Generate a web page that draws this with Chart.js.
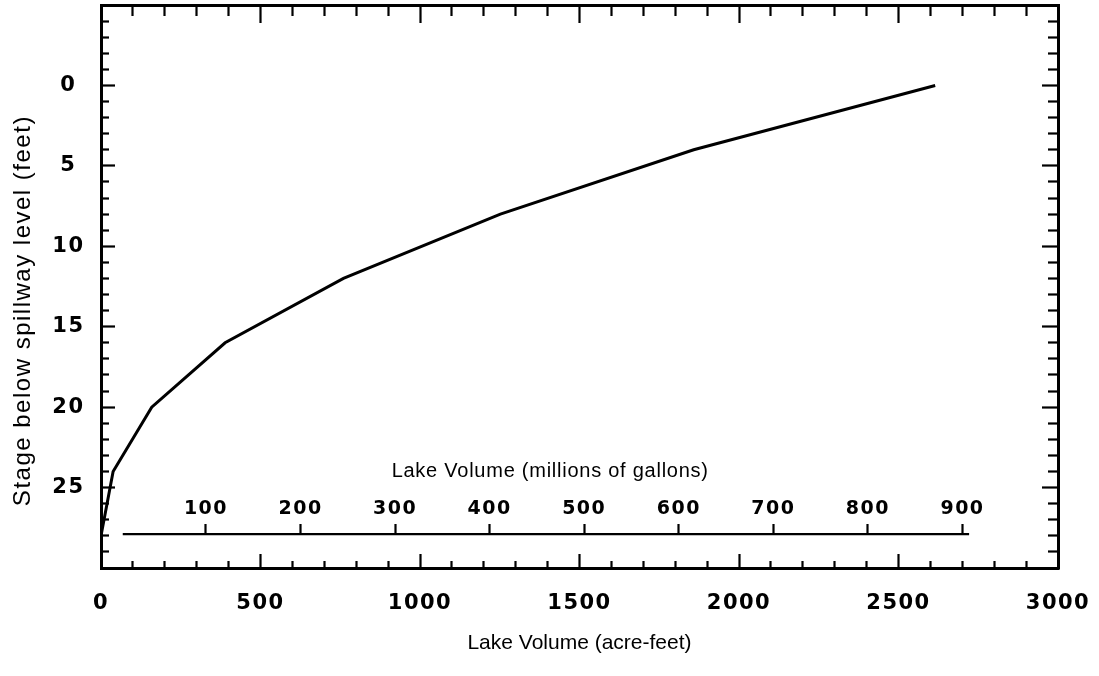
<!DOCTYPE html>
<html>
<head>
<meta charset="utf-8">
<script src="https://cdn.jsdelivr.net/npm/chart.js@4/dist/chart.umd.min.js"></script>
<style>
  html, body { margin: 0; padding: 0; background: #fff; }
  #wrap { width: 1099px; height: 676px; }
</style>
</head>
<body>
<div id="wrap"><canvas id="myChart"></canvas></div>
<script>
// stage / volume curve
const volumeAcreFeet = [0, 38, 159, 389, 760, 1252, 1858, 2615];
const stageFeet = [28, 24, 20, 16, 12, 8, 4, 0];

// tick labels
const acreFeetTicks = [0, 500, 1000, 1500, 2000, 2500, 3000];
const stageTicks = [0, 5, 10, 15, 20, 25];
const gallonTicks = [100, 200, 300, 400, 500, 600, 700, 800, 900];

// inner gallons scale (millions of gallons) and where its line sits
const gallonRange = [-11, 1001];
const gallonLineEnds = [12, 907];
const gallonLineStage = 27.9;
const gallonTitleAt = [464, 24];
// stage (feet) at the middle of the y title, as printed
const yTitleStage = 14;

const tickFont = { family: 'DejaVu Sans', size: 21, weight: 'bold' };
const titleFont = { family: 'Liberation Sans', size: 21 };

// tick-only axes glued to the frame; long ticks at majors, short dashes at minors
function frameAxis(axis, position, min, max, step, major, len) {
  return {
    type: 'linear',
    axis: axis,
    position: position,
    min: min,
    max: max,
    reverse: axis === 'y',
    ticks: { display: false, stepSize: step, maxTicksLimit: 200 },
    grid: {
      drawOnChartArea: false,
      drawTicks: true,
      tickLength: len,
      tickWidth: 2.2,
      tickColor: '#000',
      tickBorderDash: (c) => (c.tick && c.tick.value % major === 0) ? [] : [9, 40]
    },
    border: { display: true, color: '#000', width: 3 }
  };
}

// titles that sit off the axis centre, plus letter spacing for tick numbers
const lettering = {
  id: 'lettering',
  beforeDraw(chart) {
    chart.ctx.letterSpacing = '0px';
  },
  afterDatasetsDraw(chart) {
    const { ctx, scales } = chart;
    ctx.save();
    ctx.fillStyle = '#000';
    ctx.textAlign = 'center';
    ctx.textBaseline = 'middle';
    ctx.letterSpacing = '0.75px';
    ctx.font = '20px "Liberation Sans"';
    ctx.fillText('Lake Volume (millions of gallons)',
      scales.x2.getPixelForValue(gallonTitleAt[0]),
      scales.y.getPixelForValue(gallonTitleAt[1]));
    ctx.letterSpacing = '1.5px';
    ctx.font = '24px "Liberation Sans"';
    ctx.translate(scales.y.left + 23, scales.y.getPixelForValue(yTitleStage));
    ctx.rotate(-Math.PI / 2);
    ctx.fillText('Stage below spillway level (feet)', 0, 0);
    ctx.restore();
    ctx.letterSpacing = '1.5px';
  },
  afterDraw(chart) {
    chart.ctx.letterSpacing = '0px';
  }
};

const data = {
  datasets: [
    {
      label: 'stage',
      data: volumeAcreFeet.map((v, i) => ({ x: v, y: stageFeet[i] })),
      borderColor: '#000',
      borderWidth: 3,
      pointRadius: 0,
      tension: 0,
      xAxisID: 'x',
      yAxisID: 'y'
    },
    {
      label: 'gallons axis',
      data: gallonLineEnds.map(v => ({ x: v, y: gallonLineStage })),
      borderColor: '#000',
      borderWidth: 2.2,
      pointRadius: 0,
      xAxisID: 'x2',
      yAxisID: 'y'
    }
  ]
};

const config = {
  type: 'line',
  data: data,
  options: {
    responsive: true,
    maintainAspectRatio: false,
    animation: false,
    layout: { padding: { left: 0, top: 5, right: 41, bottom: 0 } },
    plugins: {
      legend: { display: false },
      tooltip: { enabled: false }
    },
    scales: {
      x: {
        type: 'linear',
        position: 'bottom',
        min: 0,
        max: 3000,
        afterBuildTicks: (s) => { s.ticks = acreFeetTicks.map(v => ({ value: v })); },
        afterFit: (s) => { s.height = 108; s.paddingLeft = 0; s.paddingRight = 0; },
        grid: { display: false, drawTicks: false },
        border: { display: false },
        ticks: {
          z: 1, color: '#000', font: tickFont, padding: 23.4, maxRotation: 0, autoSkip: false,
          format: { useGrouping: false }
        },
        title: {
          display: true,
          text: 'Lake Volume (acre-feet)',
          color: '#000',
          font: titleFont,
          padding: { top: 0, bottom: 20 }
        }
      },
      y: {
        type: 'linear',
        position: 'left',
        reverse: true,
        min: -5,
        max: 30,
        afterBuildTicks: (s) => { s.ticks = stageTicks.map(v => ({ value: v })); },
        afterFit: (s) => { s.width = 101; s.paddingTop = 0; s.paddingBottom = 0; },
        grid: { display: false, drawTicks: false },
        border: { display: false },
        ticks: { z: 1, color: '#000', font: tickFont, crossAlign: 'center', padding: 18 }
      },
      xBottom: frameAxis('x', { y: 30 }, 0, 3000, 100, 500, -16),
      xTop: frameAxis('x', { y: -5 }, 0, 3000, 100, 500, 16),
      yLeft: frameAxis('y', { x: 0 }, -5, 30, 1, 5, -15),
      yRight: frameAxis('y', { x: 3000 }, -5, 30, 1, 5, 15),
      x2: {
        type: 'linear',
        axis: 'x',
        position: { y: gallonLineStage },
        min: gallonRange[0],
        max: gallonRange[1],
        afterBuildTicks: (s) => { s.ticks = gallonTicks.map(v => ({ value: v })); },
        afterFit: (s) => { s.height = 0; s.paddingLeft = 0; s.paddingRight = 0; },
        grid: { drawOnChartArea: false, drawTicks: true, tickLength: -10, tickWidth: 2.2, tickColor: '#000' },
        border: { display: false },
        ticks: {
          z: 1, color: '#000', font: { family: 'DejaVu Sans', size: 19, weight: 'bold' },
          padding: -26.4, maxRotation: 0, autoSkip: false
        }
      }
    }
  },
  plugins: [lettering]
};

var myChart = new Chart(
  document.getElementById('myChart'),
  config
);
</script>
</body>
</html>
